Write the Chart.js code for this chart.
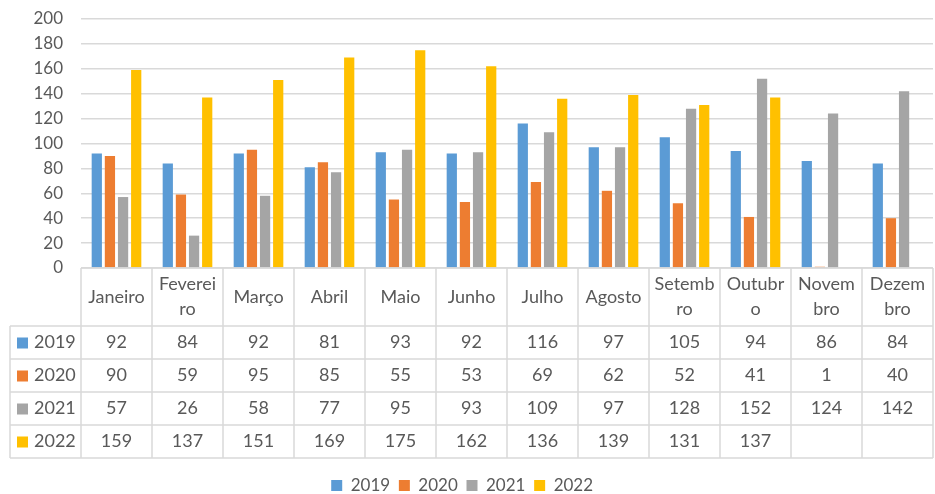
<!DOCTYPE html>
<html>
<head>
<meta charset="utf-8">
<script src="https://cdn.jsdelivr.net/npm/chart.js@4/dist/chart.umd.min.js"></script>
<style>
  html, body { margin: 0; padding: 0; background: #fff; }
  #wrap { width: 935px; height: 494px; }
</style>
</head>
<body>
<div id="wrap"><canvas id="chart"></canvas></div>
<script>
// Chart data
const categories = ["Janeiro", ["Feverei", "ro"], "Março", "Abril", "Maio", "Junho", "Julho", "Agosto",
  ["Setemb", "ro"], ["Outubr", "o"], ["Novem", "bro"], ["Dezem", "bro"]]
const seriesNames = ["2019", "2020", "2021", "2022"]
const values2019 = [92, 84, 92, 81, 93, 92, 116, 97, 105, 94, 86, 84]
const values2020 = [90, 59, 95, 85, 55, 53, 69, 62, 52, 41, 1, 40]
const values2021 = [57, 26, 58, 77, 95, 93, 109, 97, 128, 152, 124, 142]
const values2022 = [159, 137, 151, 169, 175, 162, 136, 139, 131, 137, null, null]
const yTicks = [0, 20, 40, 60, 80, 100, 120, 140, 160, 180, 200]

const colors = ["#5B9BD5", "#ED7D31", "#A5A5A5", "#FFC000"]
const FONT = "Lato, 'Open Sans', sans-serif"
const TEXT = "#595959"
const LINE = "#d9d9d9"

// Data table under the plot, drawn from the same arrays
const dataTable = {
  id: "dataTable",
  afterDraw(chart) {
    const ctx = chart.ctx
    const x = chart.scales.x
    const top = chart.chartArea.bottom
    const colW = (x.right - x.left) / categories.length
    const headH = 58
    const rowH = 33
    const legendLeft = 10
    const all = [values2019, values2020, values2021, values2022]
    const bottom = top + headH + rowH * all.length

    ctx.save()
    ctx.strokeStyle = LINE
    ctx.lineWidth = 1.5

    // horizontal lines
    ctx.beginPath()
    ctx.moveTo(x.left, top)
    ctx.lineTo(x.right, top)
    for (let r = 0; r <= all.length; r++) {
      const yy = top + headH + rowH * r
      ctx.moveTo(legendLeft, yy)
      ctx.lineTo(x.right, yy)
    }
    // vertical lines
    for (let c = 0; c <= categories.length; c++) {
      const xx = x.left + colW * c
      ctx.moveTo(xx, top)
      ctx.lineTo(xx, bottom)
    }
    ctx.moveTo(legendLeft, top + headH)
    ctx.lineTo(legendLeft, bottom)
    ctx.stroke()

    ctx.fillStyle = TEXT
    ctx.font = "18px " + FONT
    ctx.textAlign = "center"
    ctx.textBaseline = "middle"

    // header
    categories.forEach((label, i) => {
      const cx = x.getPixelForValue(i)
      const lines = Array.isArray(label) ? label : [label]
      const lh = 25
      const start = top + headH / 2 - (lines.length - 1) * lh / 2
      lines.forEach((ln, k) => ctx.fillText(ln, cx, start + k * lh))
    })

    // rows
    all.forEach((vals, r) => {
      const cy = top + headH + rowH * r + rowH / 2
      ctx.fillStyle = colors[r]
      ctx.fillRect(legendLeft + 7, cy - 5, 11, 11)
      ctx.fillStyle = TEXT
      ctx.textAlign = "left"
      ctx.fillText(seriesNames[r], legendLeft + 24, cy)
      ctx.textAlign = "center"
      vals.forEach((v, i) => {
        if (v === null) return
        ctx.fillText(String(v), x.getPixelForValue(i), cy)
      })
    })
    ctx.restore()
  }
}

new Chart(document.getElementById("chart"), {
  type: "bar",
  data: {
    labels: categories,
    datasets: [values2019, values2020, values2021, values2022].map((d, i) => ({
      label: seriesNames[i],
      data: d,
      backgroundColor: colors[i],
      categoryPercentage: 0.74,
      barPercentage: 0.78,
    })),
  },
  options: {
    responsive: true,
    maintainAspectRatio: false,
    animation: false,
    layout: { padding: { top: 19, right: 2, left: 0, bottom: -10 } },
    plugins: {
      legend: {
        position: "bottom",
        labels: {
          boxWidth: 11,
          boxHeight: 11,
          padding: 0,
          color: TEXT,
          font: { size: 17, family: FONT },
          generateLabels: (chart) => Chart.defaults.plugins.legend.labels.generateLabels(chart)
            .map((l) => ({ ...l, text: l.text + "  " })),
        },
      },
      tooltip: { enabled: false },
    },
    scales: {
      x: {
        grid: { display: false },
        border: { display: false },
        ticks: { display: false },
        afterFit: (scale) => { scale.height = 209 },
      },
      y: {
        min: 0,
        max: 200,
        afterBuildTicks: (scale) => { scale.ticks = yTicks.map((v) => ({ value: v })) },
        grid: { color: LINE, lineWidth: 1.5, drawTicks: true, tickLength: 18, tickColor: "rgba(0,0,0,0)" },
        border: { display: false },
        ticks: { color: TEXT, padding: 0, font: { size: 17, family: FONT } },
        afterFit: (scale) => { scale.width = 81 },
      },
    },
  },
  plugins: [dataTable],
})
</script>
</body>
</html>
